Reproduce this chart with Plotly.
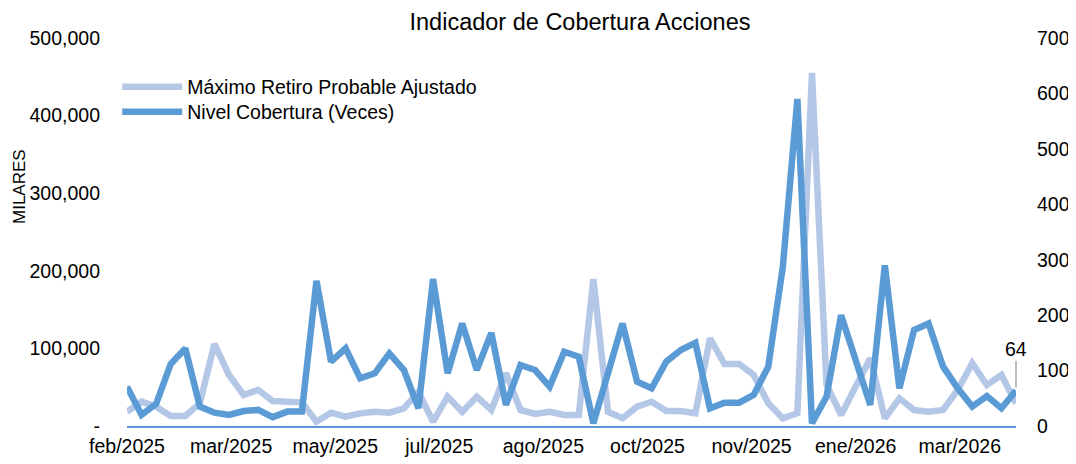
import pandas as pd
import plotly.graph_objects as go

# weekly observation dates (categories)
dates = pd.date_range("2025-02-03", periods=62, freq="7D")

# Máximo Retiro Probable Ajustado (MILARES, left axis)
max_retiro = [
    18400, 31300, 24900, 12900, 12900, 29200, 105700, 65700, 40000, 46400,
    32200, 32200, 30500, 5500, 17100, 12000, 16300, 18400, 17100, 22800,
    44200, 5500, 37800, 18400, 37800, 20600, 67900, 20600, 15500, 18400,
    14200, 14200, 189400, 18400, 9900, 24900, 31300, 19300, 19300, 16400,
    113000, 79900, 79900, 65700, 29200, 9900, 16400, 455000, 53000, 14200,
    50600, 87200, 9900, 35700, 20600, 18400, 20600, 46400, 80800, 52800,
    65700, 29200,
]

# Nivel Cobertura (Veces) (right axis)
nivel_cobertura = [
    71, 20, 40, 112, 140, 35, 24, 20, 27, 29,
    16, 26, 26, 262, 116, 140, 86, 95, 131, 101,
    32, 265, 95, 185, 101, 168, 38, 110, 101, 71,
    134, 125, 5, 95, 185, 80, 68, 116, 137, 150,
    32, 42, 42, 56, 107, 287, 590, 5, 53, 200,
    121, 38, 290, 68, 173, 185, 107, 68, 35, 54,
    32, 64,
]

tick_dates = ["2025-02-03", "2025-03-25", "2025-05-14", "2025-07-03", "2025-08-22",
              "2025-10-11", "2025-11-30", "2026-01-19", "2026-03-10"]
tick_labels = ["feb/2025", "mar/2025", "may/2025", "jul/2025", "ago/2025",
               "oct/2025", "nov/2025", "ene/2026", "mar/2026"]

left_ticks = [0, 100000, 200000, 300000, 400000, 500000]
left_labels = ["-", "100,000", "200,000", "300,000", "400,000", "500,000"]
right_ticks = [0, 100, 200, 300, 400, 500, 600, 700]

FONT = "Liberation Sans, Arial, sans-serif"
LIGHT = "#B4C7E7"
DARK = "#5B9BD5"
TICKSIZE = 19.5
BLACK = "#000000"

fig = go.Figure()
fig.add_trace(go.Scatter(x=dates, y=max_retiro, name="Máximo Retiro Probable Ajustado",
                         mode="lines", line=dict(color=LIGHT, width=6.5), yaxis="y",
                         legend="legend"))
fig.add_trace(go.Scatter(x=dates, y=nivel_cobertura, name="Nivel Cobertura (Veces)",
                         mode="lines", line=dict(color=DARK, width=6.5), yaxis="y2",
                         legend="legend2"))

fig.add_annotation(x=dates[-1], y=nivel_cobertura[-1], yref="y2", text=str(nivel_cobertura[-1]),
                   showarrow=True, arrowhead=0, arrowwidth=1.5, arrowcolor="#A6A6A6",
                   ax=0, ay=-42, standoff=3, font=dict(family=FONT, size=TICKSIZE, color=BLACK))
fig.add_annotation(x=(19 - 127) / 889, xref="paper", xanchor="center",
                   y=(426 - 187) / 388, yref="paper", yanchor="middle",
                   text="MILARES", textangle=-90, showarrow=False,
                   font=dict(family=FONT, size=17, color=BLACK))

legend_common = dict(x=-0.011, xanchor="left", yanchor="middle", bgcolor="rgba(0,0,0,0)",
                     font=dict(family=FONT, size=19.5, color=BLACK), itemwidth=60)

# page has an 8px body margin: figure is drawn 8px right/down, so sizes compensate
fig.update_layout(
    width=1068, height=456,
    margin=dict(l=119, r=60, t=30, b=38, autoexpand=False),
    paper_bgcolor="white", plot_bgcolor="white",
    title=dict(text="Indicador de Cobertura Acciones", x=572 / 1068, xanchor="center",
               y=1 - 14 / 456, yanchor="middle", yref="container",
               font=dict(family=FONT, size=23.5, color=BLACK)),
    showlegend=True,
    legend=dict(y=(426 - 87) / 388, **legend_common),
    legend2=dict(y=(426 - 112) / 388, **legend_common),
    xaxis=dict(range=[dates[0], dates[-1]], tickvals=tick_dates, ticktext=tick_labels,
               showgrid=False, zeroline=False, showline=True, linecolor=DARK, linewidth=2,
               ticks="", automargin=False, ticklabelstandoff=2,
               tickfont=dict(family=FONT, size=TICKSIZE, color=BLACK)),
    yaxis=dict(range=[0, 500000], tickvals=left_ticks, ticktext=left_labels,
               showgrid=False, zeroline=False, showline=False, ticks="", automargin=False,
               ticklabelstandoff=26, tickfont=dict(family=FONT, size=TICKSIZE, color=BLACK)),
    yaxis2=dict(range=[0, 700], tickvals=right_ticks, overlaying="y", side="right",
                showgrid=False, zeroline=False, showline=False, ticks="", automargin=False,
                ticklabelstandoff=20, tickfont=dict(family=FONT, size=TICKSIZE, color=BLACK)),
)

fig.write_html("out.html")
